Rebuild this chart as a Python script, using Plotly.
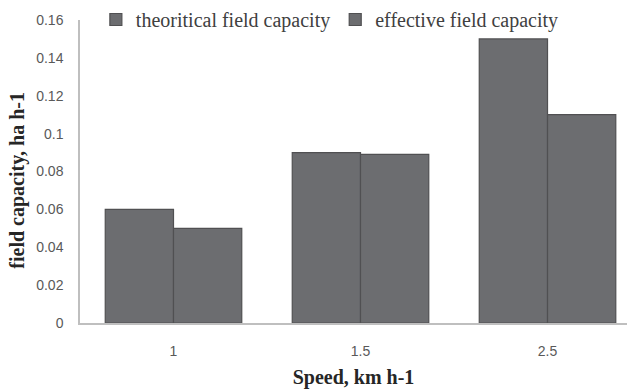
import plotly.graph_objects as go

speeds = ["1", "1.5", "2.5"]
theoretical = [0.06, 0.09, 0.15]
effective = [0.05, 0.089, 0.11]
y_ticks = [0, 0.02, 0.04, 0.06, 0.08, 0.1, 0.12, 0.14, 0.16]
y_tick_text = ["0", "0.02", "0.04", "0.06", "0.08", "0.1", "0.12", "0.14", "0.16"]

bar_color = "#6c6d70"
edge = "#505052"

fig = go.Figure()
fig.add_trace(go.Bar(x=speeds, y=theoretical, name="theoritical field capacity",
                     marker=dict(color=bar_color, line=dict(color=edge, width=1.2))))
fig.add_trace(go.Bar(x=speeds, y=effective, name="effective field capacity",
                     marker=dict(color=bar_color, line=dict(color=edge, width=1.2))))

fig.update_layout(
    width=627, height=391,
    margin=dict(l=80, r=0, t=19, b=68),
    paper_bgcolor="white", plot_bgcolor="white",
    barmode="group", bargap=0.27, bargroupgap=0,
    showlegend=True,
    legend=dict(orientation="h", x=0.029, y=1.0, xanchor="left", yanchor="middle",
                font=dict(family="Liberation Serif", size=20, color="#404040"),
                itemwidth=30, bgcolor="rgba(0,0,0,0)", traceorder="normal"),
    xaxis=dict(type="category", range=[-0.5, 2.425], showline=True, linecolor="#bfbfbf",
               linewidth=1.5, ticks="", showgrid=False, ticklabelstandoff=14,
               tickfont=dict(family="Liberation Sans", size=14, color="#595959"),
               title=dict(text="<b>Speed, km h-1</b>", standoff=12,
                          font=dict(family="Liberation Serif", size=20, color="#262626"))),
    yaxis=dict(range=[0, 0.16], tickvals=y_ticks, ticktext=y_tick_text, showline=True,
               linecolor="#bfbfbf", linewidth=1.5, ticks="", showgrid=False, zeroline=False,
               ticklabelstandoff=12,
               tickfont=dict(family="Liberation Sans", size=14, color="#595959")),
    annotations=[dict(text="<b>field capacity, ha h-1</b>", xref="paper", yref="paper",
                      x=-0.115, y=0.47, xanchor="center", yanchor="middle", textangle=-90,
                      showarrow=False,
                      font=dict(family="Liberation Serif", size=20, color="#262626"))],
)

fig.write_html("out.html")
